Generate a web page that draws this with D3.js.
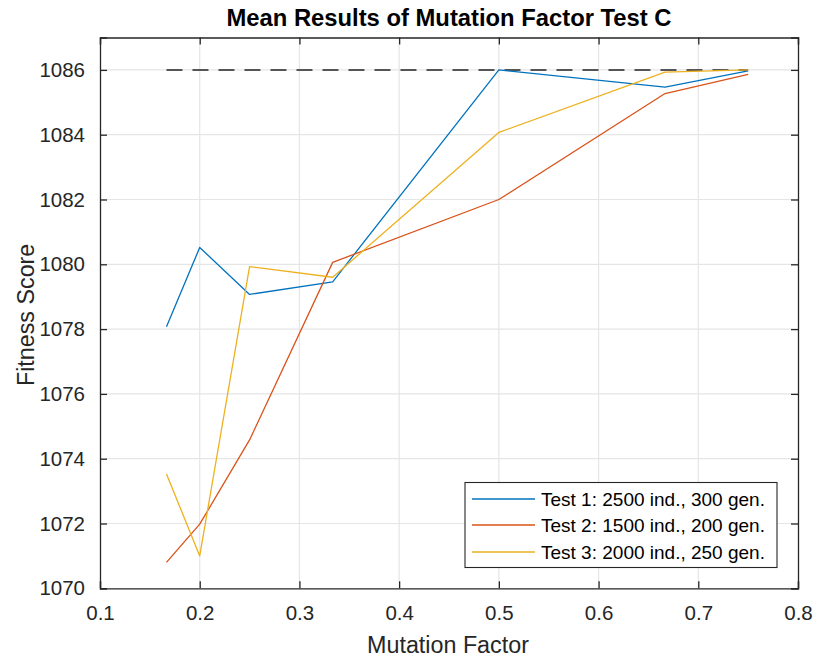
<!DOCTYPE html>
<html>
<head>
<meta charset="utf-8">
<script src="https://cdn.jsdelivr.net/npm/d3@7"></script>
<style>
  html, body { margin: 0; padding: 0; background: #fff; }
  svg { display: block; font-family: "Liberation Sans", Arial, Helvetica, sans-serif; }
</style>
</head>
<body>
<svg id="chart" width="816" height="659"></svg>
<script>
// Mutation factor values tested
const mutationFactors = [1/6, 0.2, 0.25, 1/3, 0.5, 2/3, 0.75];

// Mean fitness score for each test configuration
const test1 = [1078.07, 1080.52, 1079.07, 1079.46, 1086.00, 1085.47, 1085.97];
const test2 = [1070.80, 1071.98, 1074.58, 1080.06, 1082.00, 1085.27, 1085.86];
const test3 = [1073.53, 1071.00, 1079.93, 1079.60, 1084.07, 1085.93, 1086.00];

const seriesNames = [
  "Test 1: 2500 ind., 300 gen.",
  "Test 2: 1500 ind., 200 gen.",
  "Test 3: 2000 ind., 250 gen."
];
const seriesColors = ["#0072BD", "#D95319", "#EDB120"];

// Reference optimum
const optimum = 1086;

const xTicks = [0.1, 0.2, 0.3, 0.4, 0.5, 0.6, 0.7, 0.8];
const yTicks = [1070, 1072, 1074, 1076, 1078, 1080, 1082, 1084, 1086];

const svg = d3.select("#chart");
const plotLeft = 100, plotRight = 798, plotTop = 37.5, plotBottom = 588.3;

const x = d3.scaleLinear().domain([0.1, 0.8]).range([plotLeft, plotRight]);
const y = d3.scaleLinear().domain([1070, 1087]).range([plotBottom, plotTop]);

const axisColor = "#262626";
const gridColor = "#e5e5e5";

// Grid
const grid = svg.append("g");
grid.selectAll(".gx").data(xTicks.slice(1, -1)).join("line")
  .attr("x1", d => x(d)).attr("x2", d => x(d))
  .attr("y1", plotTop).attr("y2", plotBottom)
  .attr("stroke", gridColor).attr("stroke-width", 1.2);
grid.selectAll(".gy").data(yTicks.slice(1)).join("line")
  .attr("x1", plotLeft).attr("x2", plotRight)
  .attr("y1", d => y(d)).attr("y2", d => y(d))
  .attr("stroke", gridColor).attr("stroke-width", 1.2);

// Axes (ticks pointing inward, box on all four sides)
const tickLen = 7;
const fmtX = d3.format(".1f");

const xBottom = svg.append("g").attr("transform", `translate(0,${plotBottom})`)
  .call(d3.axisBottom(x).tickValues(xTicks).tickSize(-tickLen).tickPadding(tickLen + 10).tickFormat(fmtX));
const xTop = svg.append("g").attr("transform", `translate(0,${plotTop})`)
  .call(d3.axisTop(x).tickValues(xTicks).tickSize(-tickLen).tickFormat(""));
const yLeft = svg.append("g").attr("transform", `translate(${plotLeft},0)`)
  .call(d3.axisLeft(y).tickValues(yTicks).tickSize(-tickLen).tickPadding(tickLen + 8).tickFormat(d3.format("d")));
const yRight = svg.append("g").attr("transform", `translate(${plotRight},0)`)
  .call(d3.axisRight(y).tickValues(yTicks).tickSize(-tickLen).tickFormat(""));

[xBottom, xTop, yLeft, yRight].forEach(g => {
  g.select(".domain").attr("stroke", axisColor).attr("stroke-width", 1.3);
  g.selectAll(".tick line").attr("stroke", axisColor).attr("stroke-width", 1.3);
  g.selectAll(".tick text").attr("fill", axisColor)
    .attr("font-family", "Liberation Sans, Arial, sans-serif")
    .attr("font-size", "20.5px");
});

// Dashed optimum line across the tested range
svg.append("line")
  .attr("x1", x(mutationFactors[0]))
  .attr("x2", x(mutationFactors[mutationFactors.length - 1]))
  .attr("y1", y(optimum)).attr("y2", y(optimum))
  .attr("stroke", "#555555").attr("stroke-width", 2)
  .attr("stroke-dasharray", "16,10");

// Series lines
const line = d3.line()
  .x((d, i) => x(mutationFactors[i]))
  .y(d => y(d));

[test1, test2, test3].forEach((vals, k) => {
  svg.append("path")
    .datum(vals)
    .attr("d", line)
    .attr("fill", "none")
    .attr("stroke", seriesColors[k])
    .attr("stroke-width", 1.3)
    .attr("stroke-linejoin", "round");
});

// Title and axis labels
svg.append("text")
  .attr("x", (plotLeft + plotRight) / 2).attr("y", 26)
  .attr("text-anchor", "middle")
  .attr("font-size", "23.8px").attr("font-weight", "bold")
  .attr("fill", "#000")
  .text("Mean Results of Mutation Factor Test C");

svg.append("text")
  .attr("x", (plotLeft + plotRight) / 2 - 1).attr("y", 653)
  .attr("text-anchor", "middle")
  .attr("font-size", "23.3px")
  .attr("fill", axisColor)
  .text("Mutation Factor");

svg.append("text")
  .attr("transform", `translate(34,${(plotTop + plotBottom) / 2 + 2}) rotate(-90)`)
  .attr("text-anchor", "middle")
  .attr("font-size", "23.3px")
  .attr("fill", axisColor)
  .text("Fitness Score");

// Legend
const legend = svg.append("g");
legend.append("rect")
  .attr("x", 465).attr("y", 482.5)
  .attr("width", 312).attr("height", 85)
  .attr("fill", "#fff")
  .attr("stroke", axisColor).attr("stroke-width", 1.1);

const rowY = [499, 525, 552];
seriesNames.forEach((name, k) => {
  legend.append("line")
    .attr("x1", 472).attr("x2", 535)
    .attr("y1", rowY[k]).attr("y2", rowY[k])
    .attr("stroke", seriesColors[k]).attr("stroke-width", 1.3);
  legend.append("text")
    .attr("x", 541).attr("y", rowY[k] + 7)
    .attr("font-size", "19px")
    .attr("fill", "#000")
    .text(name);
});
</script>
</body>
</html>
